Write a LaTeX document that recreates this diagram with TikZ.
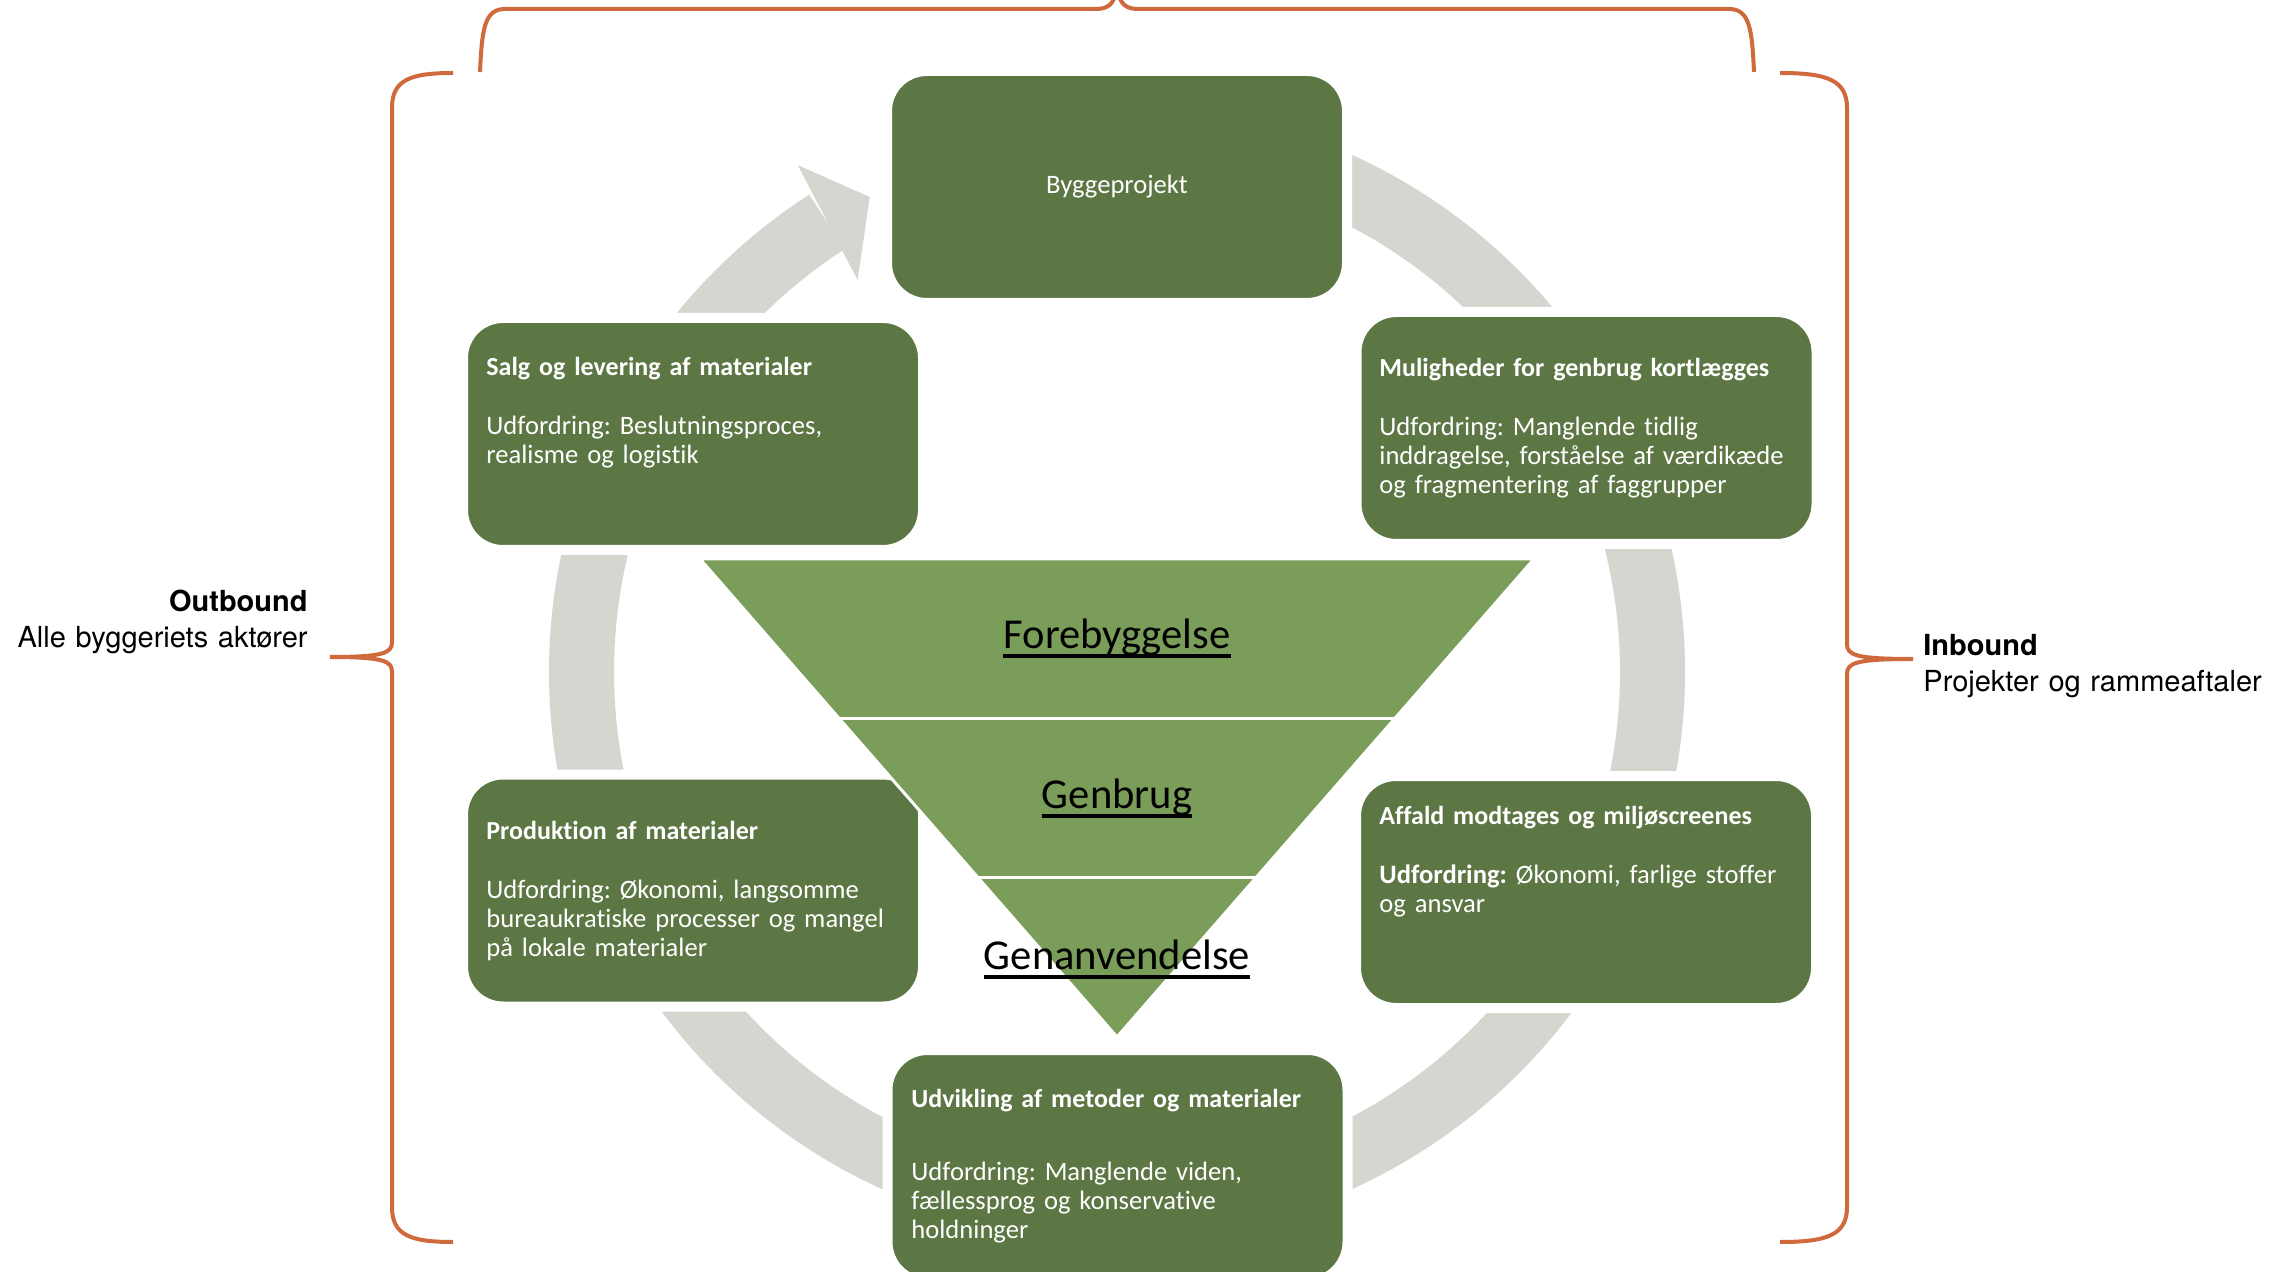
\documentclass[tikz,border=0pt]{standalone}
\usepackage{fontspec}
\setmainfont{Carlito}[Ligatures=NoCommon]
\newfontfamily\heros{TeX Gyre Heros}
\usetikzlibrary{calc}
\definecolor{boxgreen}{RGB}{92,118,68}
\definecolor{tiergreen}{RGB}{122,157,90}
\definecolor{ringgrey}{RGB}{212,214,207}
\definecolor{braceorange}{RGB}{208,106,60}
\frenchspacing
\begin{document}
\begin{tikzpicture}[x=0.5pt,y=0.5pt]
            \tikzstyle{every node}+=[inner sep=0pt]
            \tikzstyle{stagebox}=[fill=boxgreen, draw=white, line width=5pt, rounded corners=20pt, minimum width=230pt, minimum height=116pt, text=white, font=\fontsize{13.3pt}{14.5pt}\selectfont]
            \tikzstyle{stagetext}=[anchor=base west, align=left, text width=230pt, text=white, font=\fontsize{13.3pt}{14.5pt}\selectfont]
            \tikzstyle{ringarc}=[ringgrey, line width=32.5pt]
            \tikzstyle{tierfill}=[fill=tiergreen, draw=white, line width=1.5pt, line join=round]
            \tikzstyle{tierline}=[white, line width=1.75pt]
            \tikzstyle{tierlabel}=[anchor=base, font=\fontsize{21.3pt}{25pt}\selectfont]
            \tikzstyle{uline}=[black, line width=1.6pt]
            \tikzstyle{brace}=[braceorange, line width=2pt]
            \tikzstyle{sidetext}=[text width=170pt, font=\heros\fontsize{14.5pt}{17.5pt}\selectfont]
            \path [use as bounding box, fill=white] (0,0) rectangle (2292,-1272);
            % ring of the cycle
            \coordinate (hub) at (1117,-672);
            \draw [ringarc] ([shift={(150:535.5)}]hub) arc [start angle=150, end angle=122.8, radius=535.5];
            \fill [ringgrey] ([shift={(122.2:599)}]hub) -- ([shift={(117.5:535.5)}]hub) -- ([shift={(123.5:470)}]hub) -- cycle;
            \draw [ringarc] ([shift={(80:535.5)}]hub) arc [start angle=80, end angle=35, radius=535.5];
            \draw [ringarc] ([shift={(25:535.5)}]hub) arc [start angle=25, end angle=-25, radius=535.5];
            \draw [ringarc] ([shift={(-35:535.5)}]hub) arc [start angle=-35, end angle=-80, radius=535.5];
            \draw [ringarc] ([shift={(-100:535.5)}]hub) arc [start angle=-100, end angle=-145, radius=535.5];
            \draw [ringarc] ([shift={(-155:535.5)}]hub) arc [start angle=-155, end angle=-205, radius=535.5];
            % stages
            \node [stagebox] (bygge) at (1117,-187) {Byggeprojekt};
            \node [stagebox] (salg) at (693,-434) {};
            \node [stagebox] (muligheder) at (1586.5,-428) {};
            \node [stagebox] (produktion) at (693,-890.5) {};
            \node [stagebox] (affald) at (1586,-892) {};
            \node [stagebox] (udvikling) at (1117.5,-1166) {};
            \node [stagetext] (salgtxt) at ([shift={(-207,58)}]salg.center) {{\fontsize{13pt}{14.5pt}\selectfont\textbf{Salg og levering af materialer}}\\[15pt]Udfordring: Beslutningsproces,\\realisme og logistik};
            \node [stagetext] (mulightxt) at ([shift={(-207.5,51)}]muligheder.center) {{\fontsize{13pt}{14.5pt}\selectfont\textbf{Muligheder for genbrug kortlægges}}\\[15pt]Udfordring: Manglende tidlig\\inddragelse, forståelse af værdikæde\\og fragmentering af faggrupper};
            \node [stagetext] (prodtxt) at ([shift={(-207,51.5)}]produktion.center) {{\fontsize{13pt}{14.5pt}\selectfont\textbf{Produktion af materialer}}\\[15pt]Udfordring: Økonomi, langsomme\\bureaukratiske processer og mangel\\på lokale materialer};
            \node [stagetext] (affaldtxt) at ([shift={(-207,68)}]affald.center) {{\fontsize{13pt}{14.5pt}\selectfont\textbf{Affald modtages og miljøscreenes}}\\[15pt]\textbf{Udfordring:} Økonomi, farlige stoffer\\og ansvar};
            \node [stagetext] (udvtxt) at ([shift={(-206.5,59)}]udvikling.center) {{\fontsize{13pt}{14.5pt}\selectfont\textbf{Udvikling af metoder og materialer}}\\[22pt]Udfordring: Manglende viden,\\fællessprog og konservative\\holdninger};
            % waste hierarchy
            \coordinate (tl) at (700,-559);
            \coordinate (tr) at (1534,-559);
            \coordinate (apex) at (1117,-1037);
            \filldraw [tierfill] (tl) -- (tr) -- (apex) -- cycle;
            \draw [tierline] ($(tl)!1/3!(apex)$) -- ($(tr)!1/3!(apex)$);
            \draw [tierline] ($(tl)!2/3!(apex)$) -- ($(tr)!2/3!(apex)$);
            \node [tierlabel] (fore) at (1117,-648) {Forebyggelse};
            \draw [uline] ([yshift=-4pt]fore.base west) -- ([yshift=-4pt]fore.base east);
            \node [tierlabel] (genbrug) at (1117,-808) {Genbrug};
            \draw [uline] ([yshift=-4pt]genbrug.base west) -- ([yshift=-4pt]genbrug.base east);
            \node [tierlabel] (genanv) at (1117,-969) {Genanvendelse};
            \draw [uline] ([yshift=-4pt]genanv.base west) -- ([yshift=-4pt]genanv.base east);
            % braces
            \draw [brace] (453,-73) .. controls (410,-73) and (392,-80) .. (392,-108) -- (392,-642) .. controls (392,-653) and (384,-657) .. (330,-657) .. controls (384,-657) and (392,-661) .. (392,-672) -- (392,-1207) .. controls (392,-1235) and (410,-1242) .. (453,-1242);
            \draw [brace] (1780,-73) .. controls (1827,-73) and (1847,-80) .. (1847,-108) -- (1847,-644) .. controls (1847,-655) and (1855,-659) .. (1913,-659) .. controls (1855,-659) and (1847,-663) .. (1847,-674) -- (1847,-1207) .. controls (1847,-1235) and (1827,-1242) .. (1780,-1242);
            \draw [brace] (480,-72) .. controls (482,-30) and (484,-9) .. (505,-9) -- (1095,-9) .. controls (1108,-9) and (1114,-5) .. (1117,12) .. controls (1120,-5) and (1126,-9) .. (1139,-9) -- (1729,-9) .. controls (1750,-9) and (1752,-30) .. (1754,-72);
            % sides
            \node [sidetext, anchor=base east, align=right] (outbound) at (308,-612) {\textbf{Outbound}\\Alle byggeriets aktører};
            \node [sidetext, anchor=base west, align=left] (inbound) at (1923,-656) {\textbf{Inbound}\\Projekter og rammeaftaler};
\end{tikzpicture}
\end{document}
